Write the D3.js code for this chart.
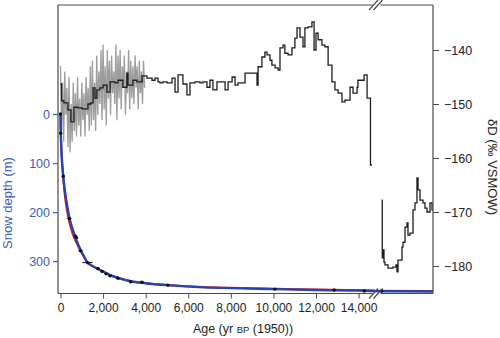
<!DOCTYPE html>
<html>
<head>
<meta charset="utf-8">
<script src="https://cdn.jsdelivr.net/npm/d3@7"></script>
<style>
  html, body { margin: 0; padding: 0; background: #fff; }
  svg { display: block; font-family: "Liberation Sans", Arial, Helvetica, sans-serif; }
</style>
</head>
<body>
<svg id="chart" width="500" height="338"></svg>
<script>
// Grey high-resolution δD record (yr BP, ‰)
const greyAges = d3.range(0, 4000, 50);
const greyValues = [
  -143, -155, -146, -157, -144, -152, -147, -158, -145, -159,
  -150, -157, -146, -155, -148, -156, -145, -154, -149, -156,
  -146, -153, -148, -156, -145, -152, -147, -155, -143, -154,
  -142, -153, -146, -155, -141, -152, -144, -150, -140, -153,
  -139, -151, -143, -154, -140, -149, -142, -152, -141, -148,
  -144, -150, -139, -153, -141, -149, -140, -151, -143, -147,
  -141, -152, -144, -148, -140, -151, -142, -149, -143, -150,
  -141, -147, -143, -151, -142, -148, -144, -150, -142, -147
];

// Black stepped δD record, Holocene to deglaciation (yr BP, ‰)
const stepAges = [
  0, 50, 160, 350, 490, 630, 820, 1010, 1290, 1430, 1530, 1620, 1710, 1850,
  2000, 2180, 2330, 2560, 2700, 2930, 3120, 3170, 3400, 3590, 3830, 4060,
  4300, 4440, 4580, 4670, 4810, 5000, 5240, 5380, 5520, 5750, 5940, 6080,
  6320, 6550, 6690, 6880, 7020, 7160, 7350, 7730, 7870, 8060, 8200, 8340,
  8670, 9230, 9280, 9460, 9600, 9700, 9840, 9930, 10080, 10220, 10310,
  10450, 10540, 10690, 10870, 11010, 11110, 11250, 11390, 11480, 11630,
  11810, 11910, 12000, 12100, 12280, 12420, 12570, 12750, 12890, 13040,
  13220, 13360, 13600, 13740, 13930, 13970, 14160, 14260, 14400, 14560, 14630
];
const stepValues = [
  -146.3, -149.4, -149.8, -151.1, -153.3, -150.6, -150.7, -150.9, -150.0, -149.8, -147.0, -148.9, -147.4, -147.0,
  -146.5, -147.8, -145.9, -146.1, -145.6, -146.9, -144.3, -146.5, -145.6, -145.9, -144.8, -145.2,
  -145.6, -145.2, -145.9, -146.1, -145.9, -146.1, -145.2, -147.8, -144.6, -146.3, -148.3, -146.1,
  -145.9, -146.1, -145.9, -146.9, -145.6, -147.4, -145.9, -147.4, -145.9, -145.0, -146.5, -146.1,
  -144.3, -146.5, -143.1, -141.3, -140.4, -140.9, -141.9, -142.8, -143.3, -143.7, -139.6,
  -139.1, -140.6, -140.9, -139.6, -137.8, -135.9, -137.6, -139.4, -135.9, -135.7,
  -134.8, -140.0, -136.9, -138.1, -139.1, -139.4, -142.8, -145.9, -147.4, -148.0,
  -149.6, -149.3, -146.9, -148.0, -146.9, -145.6, -145.6, -144.6, -148.9, -161.3, -161.3
];

// Glacial δD segment shown after the axis break (yr BP, ‰)
const glacialAges = [
  20600, 20730, 20890, 21110, 21330, 22000, 23110, 23780, 24000, 24220, 24670,
  25110, 25330, 25780, 26220, 26440, 26890, 27560, 28000, 28440, 28670, 29110,
  29780, 30220, 30670, 31330, 31780, 32000
];
const glacialValues = [
  -167.8, -178.5, -177.0, -179.3, -179.8, -180.4, -180.2, -179.8, -181.1, -178.9, -178.9,
  -176.5, -175.6, -172.8, -172.0, -174.3, -173.9, -169.6, -168.3, -163.7, -165.9, -167.8,
  -168.3, -169.3, -170.0, -168.3, -169.6, -169.6
];

// Snow depth age model (m): fitted curves and dated horizons
const fitAges   = [0, 10, 30, 60, 100, 130, 200, 300, 420, 550, 680, 800, 940, 1100, 1250, 1500, 1750, 2000, 2300, 2700, 3300, 4000, 5000, 6500, 8000, 10000, 12000, 14000, 14700, 20000, 32000];
const blueDepth = [0, 30, 60, 88, 112, 127, 155, 183, 212, 232, 249, 263, 277, 290, 302, 310, 316, 321, 328, 334, 341, 345, 349, 353, 355, 357, 359, 360, 361, 361.5, 362];
const redDepth  = [0, 30, 60, 90, 116, 132, 165, 196, 222, 242, 256, 267, 279, 291, 302, 310, 316, 321, 328, 334, 341, 345, 348.5, 352.5, 354.5, 356.5, 358, 359, 360, 360.5, 361];

const pointAges   = [0, 10, 130, 420, 700, 750, 940, 1270, 1760, 1950, 2140, 2330, 2700, 3290, 3830, 5040, 10070, 12850, 14270, 20600];
const pointDepths = [0, 39, 127, 213, 249, 252, 279, 303, 315, 321, 326, 330, 335, 342, 343, 349, 357, 359, 361, 361];
const pointErrors = [30, 30, 60, 90, 90, 70, 100, 240, 90, 60, 60, 80, 90, 70, 70, 70, 70, 70, 70, 70];

const ageTicks   = [0, 2000, 4000, 6000, 8000, 10000, 12000, 14000];
const depthTicks = [0, 100, 200, 300];
const dDTicks    = [-140, -150, -160, -170, -180];

// Layout
const svg = d3.select("#chart");
const frame = { left: 58, right: 433, top: 5, bottom: 293.5 };
const gapStart = 372.5, gapEnd = 380.5;

const blueText = "#3d5cbc";
const blueLine = "#2743b2";
const frameColor = "#4a4a4a";

// Piecewise age axis: linear to ~14,800 yr, compressed break, then the glacial segment
const x = d3.scaleLinear()
  .domain([0, 14800, 20000, 32000])
  .range([60.5, 375.6, 379, 433]);
const yDepth = d3.scaleLinear().domain([0, 365]).range([114, 293]);
const yD = d3.scaleLinear().domain([-140, -180]).range([50, 266]);

// δD traces
const greyData = greyAges.map((a, i) => ({ age: a, v: greyValues[i] }));
const stepData = stepAges.map((a, i) => ({ age: a, v: stepValues[i] }));
const glacialData = glacialAges.map((a, i) => ({ age: a, v: glacialValues[i] }));

svg.append("path")
  .datum(greyData)
  .attr("fill", "none")
  .attr("stroke", "#9c9c9c")
  .attr("stroke-width", 1.3)
  .attr("d", d3.line().x(d => x(d.age)).y(d => yD(d.v)));

const stepLine = d3.line().x(d => x(d.age)).y(d => yD(d.v)).curve(d3.curveStepAfter);
svg.append("path")
  .datum(stepData)
  .attr("fill", "none")
  .attr("stroke", "#1e1e1e")
  .attr("stroke-width", 1.3)
  .attr("d", stepLine);
svg.append("path")
  .datum(glacialData)
  .attr("fill", "none")
  .attr("stroke", "#1e1e1e")
  .attr("stroke-width", 1.3)
  .attr("d", stepLine);

// Age-depth curves
const fitLine = d3.line().x(d => x(d.age)).y(d => yDepth(d.depth)).curve(d3.curveMonotoneX);
svg.append("path")
  .datum(fitAges.map((a, i) => ({ age: a, depth: redDepth[i] })))
  .attr("fill", "none")
  .attr("stroke", "#e3252b")
  .attr("stroke-width", 2)
  .attr("d", fitLine);
svg.append("path")
  .datum(fitAges.map((a, i) => ({ age: a, depth: blueDepth[i] })))
  .attr("fill", "none")
  .attr("stroke", blueLine)
  .attr("stroke-width", 2.4)
  .attr("d", fitLine);

// Dated horizons with age uncertainty
const points = pointAges.map((a, i) => ({ age: a, depth: pointDepths[i], err: pointErrors[i] }));
const pg = svg.append("g");
pg.selectAll("line.err")
  .data(points)
  .join("line")
  .attr("x1", d => x(Math.max(0, d.age - d.err)))
  .attr("x2", d => x(d.age + d.err))
  .attr("y1", d => yDepth(d.depth))
  .attr("y2", d => yDepth(d.depth))
  .attr("stroke", "#111")
  .attr("stroke-width", 1);
pg.selectAll("circle")
  .data(points)
  .join("circle")
  .attr("cx", d => x(d.age))
  .attr("cy", d => yDepth(d.depth))
  .attr("r", 1.7)
  .attr("fill", "#111");

// Frame with axis break
const fg = svg.append("g")
  .attr("stroke", frameColor)
  .attr("stroke-width", 1.2)
  .attr("fill", "none");
fg.append("line").attr("x1", frame.left).attr("x2", frame.left).attr("y1", frame.top).attr("y2", frame.bottom);
fg.append("line").attr("x1", frame.right).attr("x2", frame.right).attr("y1", frame.top).attr("y2", frame.bottom);
[frame.top, frame.bottom].forEach(y => {
  fg.append("line").attr("x1", frame.left).attr("x2", gapStart).attr("y1", y).attr("y2", y);
  fg.append("line").attr("x1", gapEnd).attr("x2", frame.right).attr("y1", y).attr("y2", y);
  [0, 4.5].forEach(off => {
    fg.append("line")
      .attr("x1", 369 + off).attr("y1", y + 5)
      .attr("x2", 378 + off).attr("y2", y - 5);
  });
});

// Axes
const font = 12;
const titleFont = 13;
const bottomAxis = svg.append("g")
  .attr("transform", `translate(0,${frame.bottom})`)
  .call(d3.axisBottom(x).tickValues(ageTicks).tickFormat(d3.format(",")).tickSize(5).tickPadding(5));
bottomAxis.select(".domain").remove();
bottomAxis.selectAll("line").attr("stroke", frameColor);
bottomAxis.selectAll("text").attr("font-size", font).attr("fill", "#222").attr("font-family", null);

const leftAxis = svg.append("g")
  .attr("transform", `translate(${frame.left},0)`)
  .call(d3.axisLeft(yDepth).tickValues(depthTicks).tickSize(5).tickPadding(3));
leftAxis.select(".domain").remove();
leftAxis.selectAll("line").attr("stroke", blueText).attr("stroke-width", 1.2);
leftAxis.selectAll("text").attr("font-size", 12.5).attr("fill", blueText).attr("font-family", null);

const rightAxis = svg.append("g")
  .attr("transform", `translate(${frame.right},0)`)
  .call(d3.axisRight(yD).tickValues(dDTicks).tickSize(6).tickPadding(5)
    .tickFormat(d => "\u2212" + Math.abs(d)));
rightAxis.select(".domain").remove();
rightAxis.selectAll("line").attr("stroke", frameColor);
rightAxis.selectAll("text").attr("font-size", 12.5).attr("fill", "#222").attr("font-family", null);

// Axis titles
const xTitle = svg.append("text")
  .attr("x", 243).attr("y", 333)
  .attr("text-anchor", "middle")
  .attr("font-size", 12.5)
  .attr("fill", "#222");
xTitle.append("tspan").text("Age (yr ");
xTitle.append("tspan").attr("font-size", 9.5).text("BP");
xTitle.append("tspan").text(" (1950))");

svg.append("text")
  .attr("transform", "translate(12,203) rotate(-90)")
  .attr("text-anchor", "middle")
  .attr("font-size", titleFont)
  .attr("fill", blueText)
  .text("Snow depth (m)");

svg.append("text")
  .attr("transform", "translate(488,167) rotate(90)")
  .attr("text-anchor", "middle")
  .attr("font-size", titleFont)
  .attr("fill", "#222")
  .text("\u03b4D (\u2030 VSMOW)");
</script>
</body>
</html>
